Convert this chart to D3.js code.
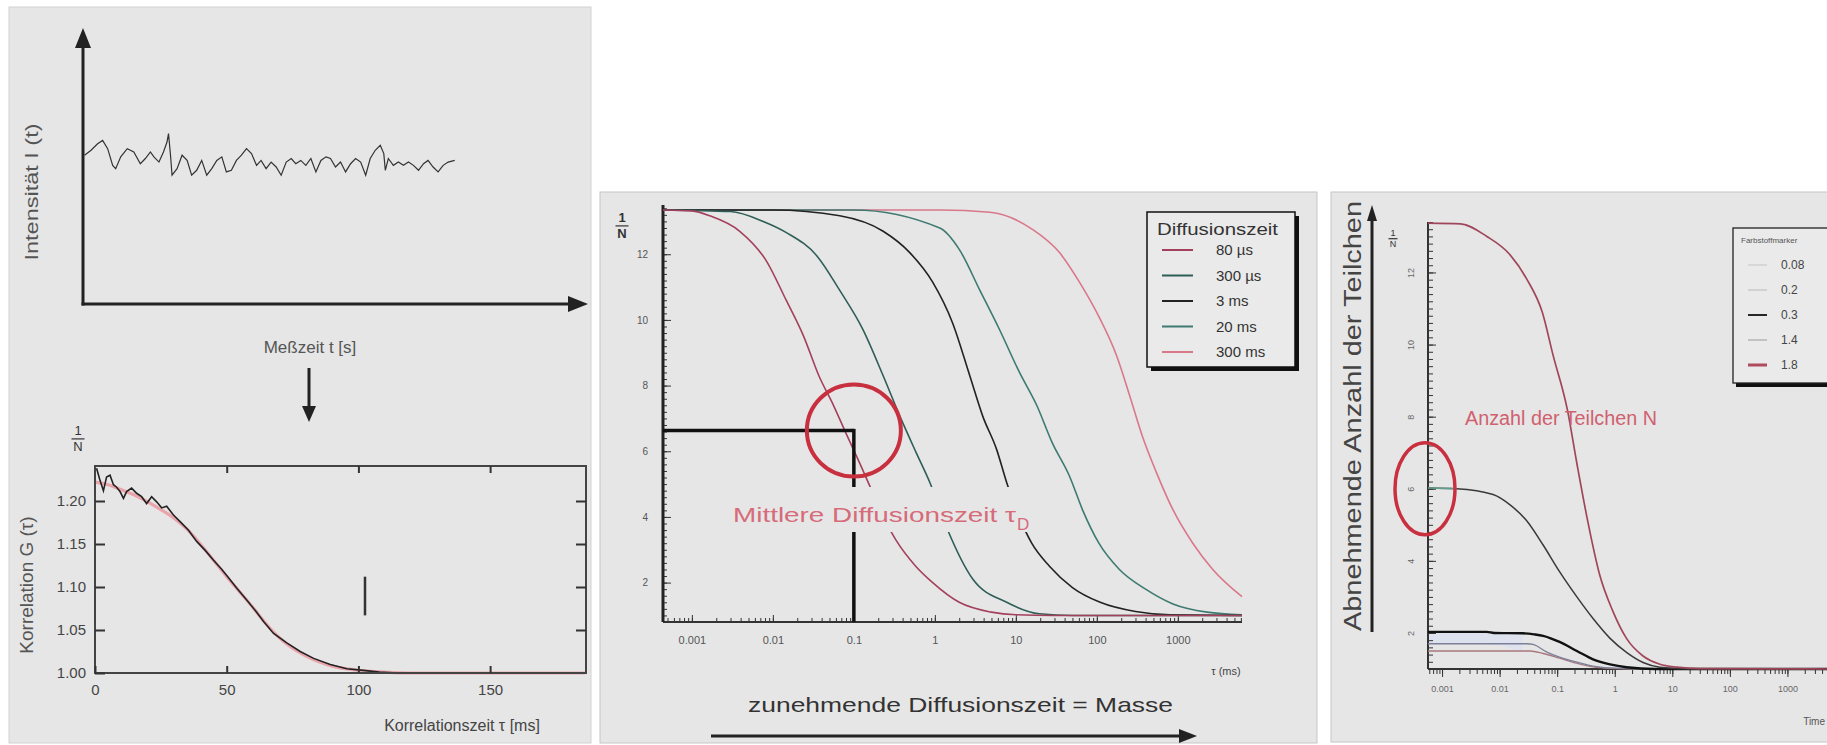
<!DOCTYPE html>
<html lang="de">
<head>
<meta charset="UTF-8">
<title>FCS</title>
<script src="https://d3js.org/d3.v7.min.js"></script>
<style>
  body { margin: 0; background: #fff; }
  svg { display: block; font-family: "Liberation Sans", Arial, sans-serif; }
</style>
</head>
<body>
<script>
// ---------- data ----------
// top left: raw intensity trace (time in % of axis, intensity in % of axis)
var measTime = [0.3, 1.6, 2.9, 3.9, 4.9, 5.9, 6.5, 7.5, 8.8, 10.1, 11.4, 12.4, 13.4, 14.1, 15.1, 16.0, 16.7, 17.0, 17.4, 17.7,
  18.7, 19.7, 20.7, 21.6, 22.6, 23.6, 24.6, 25.6, 26.6, 27.6, 28.5, 29.5, 30.5, 31.5, 32.5, 33.5, 34.5, 35.4, 36.4, 37.4,
  38.4, 39.4, 40.4, 41.4, 42.3, 43.3, 44.3, 45.3, 46.3, 47.3, 48.3, 49.2, 50.2, 51.2, 52.2, 53.2, 54.2, 55.2, 56.2, 57.1,
  58.1, 59.1, 59.8, 60.1, 60.7, 61.7, 62.7, 63.7, 64.7, 65.7, 66.7, 67.7, 68.6, 69.6, 70.6, 71.6, 72.6, 73.9];
var measIntensity = [54.3, 56.1, 58.5, 59.7, 56.7, 50.6, 49.4, 53.7, 56.7, 55.5, 51.2, 53.1, 55.5, 53.7, 51.8, 55.5, 59.1, 62.2, 54.3, 47.0,
  49.4, 54.3, 52.4, 47.0, 48.8, 52.4, 47.0, 49.4, 52.4, 53.7, 48.2, 48.8, 52.4, 54.3, 56.7, 54.9, 50.6, 52.4, 49.4, 51.8,
  50.0, 47.0, 51.8, 53.1, 51.2, 52.4, 50.6, 53.1, 48.2, 52.4, 53.7, 53.1, 50.0, 51.8, 48.2, 51.2, 53.1, 51.8, 47.0, 53.1,
  56.1, 57.9, 54.9, 48.8, 53.1, 50.6, 51.8, 50.6, 51.8, 50.6, 48.8, 51.2, 52.4, 50.0, 48.2, 50.6, 51.8, 52.4];

// bottom left: correlation G(tau), tau in ms
var corrData = [[0.6, 1.238], [1.9, 1.224], [3.2, 1.212], [4.4, 1.228], [5.7, 1.230], [7.0, 1.219], [8.2, 1.216], [9.5, 1.211],
  [10.8, 1.203], [12.0, 1.211], [13.9, 1.215], [15.8, 1.209], [17.7, 1.205], [19.6, 1.197], [21.5, 1.205], [23.4, 1.199],
  [25.3, 1.192], [27.2, 1.194], [29.7, 1.184], [32.3, 1.176], [35.5, 1.166], [38.6, 1.153], [42, 1.142], [45, 1.131],
  [48, 1.121], [50.4, 1.112], [54, 1.098], [57.6, 1.085], [61, 1.072], [64, 1.060], [67.8, 1.046], [72.8, 1.035],
  [77.9, 1.025], [83, 1.017], [89.3, 1.010], [95.6, 1.005], [101.9, 1.003], [108, 1.001], [115, 1.000]];
var corrFit = [[0, 1.222], [5, 1.219], [10, 1.213], [15, 1.207], [20, 1.199], [25, 1.190], [30, 1.180], [35, 1.167],
  [40, 1.150], [45, 1.131], [50, 1.112], [55, 1.094], [60, 1.076], [65, 1.057], [70, 1.041], [75, 1.029], [80, 1.020],
  [85, 1.013], [90, 1.008], [95, 1.005], [100, 1.003], [110, 1.001], [120, 1.000], [186, 1.000]];
var corrMark = [102.5, 1.067, 1.112];
var corrTicksX = [0, 50, 100, 150];
var corrTicksY = [1.00, 1.05, 1.10, 1.15, 1.20];

// middle: curves for different diffusion times, [tau ms, 1/N]
var diffLabels = ["80 µs", "300 µs", "3 ms", "20 ms", "300 ms"];
var diff80us = [[0.00044, 13.35], [0.001, 13.32], [0.00167, 13.17], [0.0039, 12.7], [0.0083, 11.8], [0.0146, 10.6],
  [0.024, 9.5], [0.037, 8.3], [0.056, 7.4], [0.083, 6.46], [0.12, 5.6], [0.16, 4.9], [0.23, 4.0], [0.33, 3.3],
  [0.58, 2.5], [0.94, 2.0], [2.0, 1.4], [5, 1.1], [10, 1.02], [30, 1.0], [6200, 1.0]];
var diff300us = [[0.00044, 13.35], [0.003, 13.3], [0.0076, 13.0], [0.0147, 12.66], [0.035, 11.95], [0.067, 10.9],
  [0.13, 9.7], [0.23, 8.3], [0.37, 7.07], [0.59, 5.95], [0.87, 5.04], [1.44, 3.6], [2.95, 2.1], [7.7, 1.4],
  [19.6, 1.05], [50, 1.0], [6200, 1.0]];
var diff3ms = [[0.00044, 13.35], [0.01, 13.35], [0.067, 13.17], [0.23, 12.7], [0.49, 12.05], [0.94, 11.15], [1.66, 9.9],
  [2.7, 8.3], [3.9, 7.07], [5.8, 6.05], [7.7, 5.05], [11, 4.0], [15.7, 3.2], [26, 2.5], [50, 1.85], [110, 1.4],
  [300, 1.12], [800, 1.02], [6200, 1.0]];
var diff20ms = [[0.00044, 13.35], [0.1, 13.35], [1.15, 12.8], [2.0, 12.15], [3.6, 10.9], [6.3, 9.7], [11.1, 8.4],
  [18.1, 7.4], [28, 6.27], [46, 5.24], [67, 4.2], [106, 3.2], [190, 2.4], [400, 1.8], [870, 1.35], [2300, 1.1], [6200, 1.02]];
var diff300ms = [[0.00044, 13.35], [1.15, 13.35], [4.8, 13.28], [16, 12.76], [34.6, 12.05], [61, 11.15], [106, 10.1],
  [176, 8.9], [254, 7.7], [366, 6.45], [545, 5.35], [870, 4.22], [1530, 3.2], [2700, 2.4], [6200, 1.57]];
var diffMean = [0.1, 6.63];
var midTickVals = [0.001, 0.01, 0.1, 1, 10, 100, 1000];
var midTickLabels = ["0.001", "0.01", "0.1", "1", "10", "100", "1000"];
var midTicksY = [2, 4, 6, 8, 10, 12];

// right: curves for different dye concentrations, [tau ms, 1/N]
var dyeLabels = ["0.08", "0.2", "0.3", "1.4", "1.8"];
var dyeA = [[0.00057, 13.37], [0.0021, 13.35], [0.006, 13.0], [0.015, 12.5], [0.03, 11.8], [0.055, 10.9], [0.085, 9.7],
  [0.15, 8.2], [0.22, 6.7], [0.33, 5.2], [0.55, 3.6], [0.93, 2.6], [1.6, 1.85], [3.1, 1.36], [6.1, 1.13], [12, 1.05],
  [30, 1.01], [10000, 1.0]];
var dyeB = [[0.00057, 6.02], [0.0018, 6.0], [0.0077, 5.84], [0.015, 5.56], [0.03, 5.1], [0.057, 4.44], [0.11, 3.7],
  [0.22, 3.0], [0.42, 2.4], [0.83, 1.85], [1.6, 1.46], [3.1, 1.18], [6.1, 1.05], [20, 1.0], [10000, 1.0]];
var dyeC = [[0.00057, 2.03], [0.006, 2.03], [0.008, 2.0], [0.025, 1.99], [0.04, 1.96], [0.057, 1.92], [0.11, 1.75],
  [0.22, 1.5], [0.42, 1.27], [0.83, 1.13], [1.6, 1.05], [5, 1.0], [10000, 1.0]];
var dyeD = [[0.00057, 1.70], [0.03, 1.70], [0.038, 1.68], [0.066, 1.47], [0.11, 1.33], [0.22, 1.19], [0.42, 1.08],
  [0.83, 1.03], [3, 1.0], [10000, 1.0]];
var dyeE = [[0.00057, 1.50], [0.034, 1.50], [0.057, 1.43], [0.11, 1.30], [0.22, 1.16], [0.42, 1.06], [0.83, 1.02],
  [3, 1.0], [10000, 1.0]];
var rightTickVals = [0.001, 0.01, 0.1, 1, 10, 100, 1000];
var rightTickLabels = ["0.001", "0.01", "0.1", "1", "10", "100", "1000"];
var rightTicksY = [2, 4, 6, 8, 10, 12];

// ---------- drawing ----------
var w = 1827, h = 745;
var bg = "#e6e6e6";
var ink = "#222";

var svg = d3.select("body").append("svg")
  .attr("width", w)
  .attr("height", h);

svg.append("rect").attr("x", 9).attr("y", 7).attr("width", 582).attr("height", 736)
  .attr("fill", bg).attr("stroke", "#d2d2d2");
svg.append("rect").attr("x", 600).attr("y", 192).attr("width", 717).attr("height", 551)
  .attr("fill", bg).attr("stroke", "#c6c6c6");
svg.append("rect").attr("x", 1331).attr("y", 192).attr("width", 500).attr("height", 550)
  .attr("fill", bg).attr("stroke", "#c6c6c6");

function arrow(g, x1, y1, x2, y2, len, half, sw) {
  var dx = x2 - x1, dy = y2 - y1, L = Math.hypot(dx, dy), ux = dx / L, uy = dy / L;
  var bx = x2 - ux * len, by = y2 - uy * len;
  g.append("line").attr("x1", x1).attr("y1", y1).attr("x2", bx).attr("y2", by)
    .attr("stroke", ink).attr("stroke-width", sw);
  g.append("path")
    .attr("d", "M" + x2 + "," + y2 + "L" + (bx - uy * half) + "," + (by + ux * half) +
      "L" + (bx + uy * half) + "," + (by - ux * half) + "Z")
    .attr("fill", ink);
}

function styleAxis(g, size, color) {
  g.select(".domain").remove();
  g.attr("font-family", null).attr("font-size", size);
  g.selectAll("line").attr("stroke", "#333");
  g.selectAll("text").attr("fill", color || "#444");
}

function fraction(g, x, y, size, bold) {
  g.append("text").attr("x", x).attr("y", y).attr("text-anchor", "middle")
    .attr("font-size", size).attr("font-weight", bold ? "bold" : null).attr("fill", "#333").text("1");
  g.append("line").attr("x1", x - size * 0.5).attr("x2", x + size * 0.5)
    .attr("y1", y + size * 0.3).attr("y2", y + size * 0.3).attr("stroke", "#333").attr("stroke-width", 1.2);
  g.append("text").attr("x", x).attr("y", y + size * 1.25).attr("text-anchor", "middle")
    .attr("font-size", size).attr("font-weight", bold ? "bold" : null).attr("fill", "#333").text("N");
}

// ----- top left: intensity trace -----
var xT = d3.scaleLinear().domain([0, 100]).range([83, 586]);
var yT = d3.scaleLinear().domain([0, 100]).range([304, 30]);

svg.append("path")
  .datum(d3.zip(measTime, measIntensity))
  .attr("fill", "none")
  .attr("stroke", "#333")
  .attr("stroke-width", 1.2)
  .attr("d", d3.line().x(d => xT(d[0])).y(d => yT(d[1])));

arrow(svg, xT(0), yT(0) + 1.5, xT(0), yT(100) - 2, 20, 8, 3);
arrow(svg, xT(0) - 1.5, yT(0), xT(100) + 2, yT(0), 20, 8, 3);

svg.append("text")
  .attr("transform", "translate(38,192) rotate(-90)")
  .attr("text-anchor", "middle").attr("font-size", 18).attr("fill", "#555")
  .attr("textLength", 137).attr("lengthAdjust", "spacingAndGlyphs")
  .text("Intensität I (t)");
svg.append("text")
  .attr("x", 310).attr("y", 353).attr("text-anchor", "middle")
  .attr("font-size", 17).attr("fill", "#555")
  .text("Meßzeit t [s]");
arrow(svg, 309, 368, 309, 422, 16, 7, 3);

// ----- bottom left: correlation curve -----
var xB = d3.scaleLinear().domain([0, 186.4]).range([95, 586]);
var yB = d3.scaleLinear().domain([1.0, 1.2407]).range([673, 466]);

svg.append("path")
  .datum(corrFit)
  .attr("fill", "none").attr("stroke", "#eaa4ac").attr("stroke-width", 3.2)
  .attr("d", d3.line().x(d => xB(d[0])).y(d => yB(d[1])).curve(d3.curveMonotoneX));
svg.append("path")
  .datum(corrData)
  .attr("fill", "none").attr("stroke", "#222").attr("stroke-width", 1.6)
  .attr("d", d3.line().x(d => xB(d[0])).y(d => yB(d[1])));
svg.append("line")
  .attr("x1", xB(corrMark[0])).attr("x2", xB(corrMark[0]))
  .attr("y1", yB(corrMark[1])).attr("y2", yB(corrMark[2]))
  .attr("stroke", "#333").attr("stroke-width", 2.5);

svg.append("rect")
  .attr("x", xB(0)).attr("y", yB(1.2407))
  .attr("width", xB(186.4) - xB(0)).attr("height", yB(1.0) - yB(1.2407))
  .attr("fill", "none").attr("stroke", "#444").attr("stroke-width", 2);

svg.append("g").attr("transform", "translate(0," + yB(1.0) + ")")
  .call(d3.axisBottom(xB).tickValues(corrTicksX).tickSize(-7).tickPadding(11).tickFormat(d3.format("d")))
  .call(g => styleAxis(g, 15))
  .call(g => g.selectAll("line").attr("stroke-width", 2));
svg.append("g").attr("transform", "translate(0," + yB(1.2407) + ")")
  .call(d3.axisTop(xB).tickValues(corrTicksX.slice(1)).tickSize(-7).tickFormat(""))
  .call(g => styleAxis(g, 15))
  .call(g => g.selectAll("line").attr("stroke-width", 2));
svg.append("g").attr("transform", "translate(" + xB(0) + ",0)")
  .call(d3.axisLeft(yB).tickValues(corrTicksY).tickSize(-10).tickPadding(9).tickFormat(d3.format(".2f")))
  .call(g => styleAxis(g, 15))
  .call(g => g.selectAll("line").attr("stroke-width", 2));
svg.append("g").attr("transform", "translate(" + xB(186.4) + ",0)")
  .call(d3.axisRight(yB).tickValues(corrTicksY.slice(1)).tickSize(-10).tickFormat(""))
  .call(g => styleAxis(g, 15))
  .call(g => g.selectAll("line").attr("stroke-width", 2));

fraction(svg, 78, 435, 13, false);
svg.append("text")
  .attr("transform", "translate(33,585) rotate(-90)")
  .attr("text-anchor", "middle").attr("font-size", 19).attr("fill", "#555")
  .text("Korrelation G (τ)");
svg.append("text")
  .attr("x", 462).attr("y", 731).attr("text-anchor", "middle")
  .attr("font-size", 16).attr("fill", "#444")
  .text("Korrelationszeit τ [ms]");

// ----- middle: diffusion times -----
var xM = d3.scaleLog().domain([0.00044, 6200]).range([663, 1242]);
var yM = d3.scaleLinear().domain([0.8, 13.5]).range([622, 205]);
var lineM = d3.line().x(d => xM(d[0])).y(d => yM(d[1])).curve(d3.curveMonotoneX);

var midSeries = [diff80us, diff300us, diff3ms, diff20ms, diff300ms];
var midColors = ["#a3405c", "#2f5e57", "#222222", "#3d7a70", "#d9788b"];

svg.append("g").attr("transform", "translate(0," + yM(0.8) + ")")
  .call(d3.axisBottom(xM).tickValues(xM.ticks()).tickSize(-4).tickFormat(""))
  .call(g => styleAxis(g, 10));
svg.append("g").attr("transform", "translate(0," + yM(0.8) + ")")
  .call(d3.axisBottom(xM).tickValues(midTickVals).tickSize(-7).tickPadding(14)
    .tickFormat((d, i) => midTickLabels[i]))
  .call(g => styleAxis(g, 11, "#555"));
svg.append("g").attr("transform", "translate(" + xM(0.00044) + ",0)")
  .call(d3.axisLeft(yM).ticks(60).tickSize(-4).tickFormat(""))
  .call(g => styleAxis(g, 10));
svg.append("g").attr("transform", "translate(" + xM(0.00044) + ",0)")
  .call(d3.axisLeft(yM).tickValues(midTicksY).tickSize(-8).tickPadding(15))
  .call(g => styleAxis(g, 10, "#555"));

svg.append("line")
  .attr("x1", xM(0.00044)).attr("x2", xM(6200)).attr("y1", yM(0.8)).attr("y2", yM(0.8))
  .attr("stroke", "#333").attr("stroke-width", 2);
svg.append("line")
  .attr("x1", xM(0.00044)).attr("x2", xM(0.00044)).attr("y1", yM(0.8)).attr("y2", yM(13.5))
  .attr("stroke", "#222").attr("stroke-width", 3);

midSeries.slice().reverse().forEach(function(s, i) {
  svg.append("path").datum(s)
    .attr("fill", "none")
    .attr("stroke", midColors[midSeries.length - 1 - i])
    .attr("stroke-width", 1.6)
    .attr("d", lineM);
});

// guide to the mean diffusion time
svg.append("line")
  .attr("x1", xM(0.00044)).attr("x2", xM(diffMean[0]))
  .attr("y1", yM(diffMean[1])).attr("y2", yM(diffMean[1]))
  .attr("stroke", "#111").attr("stroke-width", 3.5);
svg.append("line")
  .attr("x1", xM(diffMean[0])).attr("x2", xM(diffMean[0]))
  .attr("y1", yM(diffMean[1]) - 1.7).attr("y2", yM(0.8))
  .attr("stroke", "#111").attr("stroke-width", 3.5);

svg.append("rect").attr("x", 726).attr("y", 487).attr("width", 312).attr("height", 45).attr("fill", bg);
svg.append("text")
  .attr("x", 733).attr("y", 522)
  .attr("font-size", 21).attr("fill", "#d66b7a")
  .attr("textLength", 283).attr("lengthAdjust", "spacingAndGlyphs")
  .text("Mittlere Diffusionszeit τ");
svg.append("text")
  .attr("x", 1017).attr("y", 530)
  .attr("font-size", 17).attr("fill", "#d66b7a")
  .text("D");

svg.append("ellipse")
  .attr("cx", xM(diffMean[0])).attr("cy", yM(diffMean[1]))
  .attr("rx", 47).attr("ry", 46)
  .attr("fill", "none").attr("stroke", "#c9303f").attr("stroke-width", 4);

fraction(svg, 622, 222, 13, true);
svg.append("text")
  .attr("x", 1226).attr("y", 675).attr("text-anchor", "middle")
  .attr("font-size", 11).attr("fill", "#444")
  .text("τ (ms)");
svg.append("text")
  .attr("x", 748).attr("y", 712)
  .attr("font-size", 21).attr("fill", "#333")
  .attr("textLength", 425).attr("lengthAdjust", "spacingAndGlyphs")
  .text("zunehmende Diffusionszeit = Masse");
arrow(svg, 711, 736, 1197, 736, 18, 7, 3);

// legend middle
var legM = svg.append("g").attr("transform", "translate(1147,212)");
legM.append("rect").attr("x", 4).attr("y", 4).attr("width", 148).attr("height", 155).attr("fill", "#111");
legM.append("rect").attr("width", 148).attr("height", 155).attr("fill", "#eaeaea")
  .attr("stroke", "#111").attr("stroke-width", 1.5);
legM.append("text").attr("x", 10).attr("y", 23).attr("font-size", 16).attr("fill", "#333")
  .attr("textLength", 121).attr("lengthAdjust", "spacingAndGlyphs")
  .text("Diffusionszeit");
diffLabels.forEach(function(lab, i) {
  var y = 38 + i * 25.5;
  legM.append("line").attr("x1", 15).attr("x2", 46).attr("y1", y).attr("y2", y)
    .attr("stroke", midColors[i]).attr("stroke-width", 2);
  legM.append("text").attr("x", 69).attr("y", y + 5).attr("font-size", 15).attr("fill", "#333").text(lab);
});

// ----- right: number of particles -----
var right = svg.append("g");
var xR = d3.scaleLog().domain([0.00057, 10000]).range([1428, 1845]);
var yR = d3.scaleLinear().domain([1.0, 13.4]).range([669, 222]);
var lineR = d3.line().x(d => xR(d[0])).y(d => yR(d[1])).curve(d3.curveMonotoneX);

right.append("path")
  .datum(dyeC)
  .attr("fill", "#dde2ee")
  .attr("d", d3.area().x(d => xR(d[0])).y0(function(d, i) { return yR(dyeD[Math.min(i, dyeD.length - 1)][1]); })
    .y1(d => yR(d[1])).curve(d3.curveMonotoneX).defined((d, i) => i < 4));

right.append("g").attr("transform", "translate(0," + yR(1.0) + ")")
  .call(d3.axisBottom(xR).tickValues(xR.ticks()).tickSize(5).tickFormat(""))
  .call(g => styleAxis(g, 9));
right.append("g").attr("transform", "translate(0," + yR(1.0) + ")")
  .call(d3.axisBottom(xR).tickValues(rightTickVals).tickSize(8).tickPadding(9)
    .tickFormat((d, i) => rightTickLabels[i]))
  .call(g => styleAxis(g, 9, "#666"));
right.append("g").attr("transform", "translate(" + xR(0.00057) + ",0)")
  .call(d3.axisLeft(yR).ticks(60).tickSize(-5).tickFormat(""))
  .call(g => styleAxis(g, 9));
right.append("g").attr("transform", "translate(" + xR(0.00057) + ",0)")
  .call(d3.axisLeft(yR).tickValues(rightTicksY).tickSize(-8).tickPadding(14))
  .call(g => styleAxis(g, 9, "#666"))
  .call(g => g.selectAll("text").attr("transform", "rotate(-90)").attr("dy", null)
    .attr("x", 0).attr("y", -14).attr("text-anchor", "middle"));

right.append("line")
  .attr("x1", xR(0.00057)).attr("x2", 1827).attr("y1", yR(1.0)).attr("y2", yR(1.0))
  .attr("stroke", "#333").attr("stroke-width", 2);
right.append("line")
  .attr("x1", xR(0.00057)).attr("x2", xR(0.00057)).attr("y1", yR(1.0)).attr("y2", yR(13.4))
  .attr("stroke", "#333").attr("stroke-width", 2);

var rightSeries = [dyeE, dyeD, dyeC, dyeB, dyeA];
var rightColors = ["#a8787f", "#7b8098", "#111111", "#3a3a3a", "#a0465b"];
var rightWidths = [1.3, 1.3, 2.4, 1.5, 1.7];
rightSeries.forEach(function(s, i) {
  right.append("path").datum(s)
    .attr("fill", "none").attr("stroke", rightColors[i]).attr("stroke-width", rightWidths[i])
    .attr("d", lineR);
});
right.append("path").datum(dyeB.slice(0, 2))
  .attr("fill", "none").attr("stroke", "#5f9d8e").attr("stroke-width", 1.5)
  .attr("d", lineR);

right.append("ellipse")
  .attr("cx", xR(0.00057) - 3).attr("cy", yR(6.0))
  .attr("rx", 30).attr("ry", 46)
  .attr("fill", "none").attr("stroke", "#c9303f").attr("stroke-width", 3.5);
right.append("text")
  .attr("x", 1465).attr("y", 425)
  .attr("font-size", 20).attr("fill", "#d0606e")
  .attr("textLength", 192).attr("lengthAdjust", "spacingAndGlyphs")
  .text("Anzahl der Teilchen N");

fraction(right, 1393, 236, 9, false);
right.append("text")
  .attr("transform", "translate(1361,416) rotate(-90)")
  .attr("text-anchor", "middle").attr("font-size", 23).attr("fill", "#444")
  .attr("textLength", 430).attr("lengthAdjust", "spacingAndGlyphs")
  .text("Abnehmende Anzahl der Teilchen");
arrow(right, 1372, 632, 1372, 205, 16, 5, 3);
right.append("text")
  .attr("x", 1825).attr("y", 725).attr("text-anchor", "end")
  .attr("font-size", 10).attr("fill", "#555")
  .text("Time");

// legend right
var legR = right.append("g").attr("transform", "translate(1733,228)");
legR.append("rect").attr("x", 3).attr("y", 4).attr("width", 120).attr("height", 155).attr("fill", "#111");
legR.append("rect").attr("width", 120).attr("height", 155).attr("fill", "#eaeaea")
  .attr("stroke", "#222").attr("stroke-width", 1.3);
legR.append("text").attr("x", 8).attr("y", 15).attr("font-size", 8).attr("fill", "#555").text("Farbstoffmarker");
var legRColors = ["#c4c4c4", "#b8b8b8", "#111111", "#9a9a9a", "#b04a5e"];
var legRWidths = [1, 1, 1.8, 1, 3];
dyeLabels.forEach(function(lab, i) {
  var y = 37 + i * 25;
  legR.append("line").attr("x1", 15).attr("x2", 34).attr("y1", y).attr("y2", y)
    .attr("stroke", legRColors[i]).attr("stroke-width", legRWidths[i]);
  legR.append("text").attr("x", 48).attr("y", y + 4).attr("font-size", 12).attr("fill", "#444").text(lab);
});
</script>
</body>
</html>
